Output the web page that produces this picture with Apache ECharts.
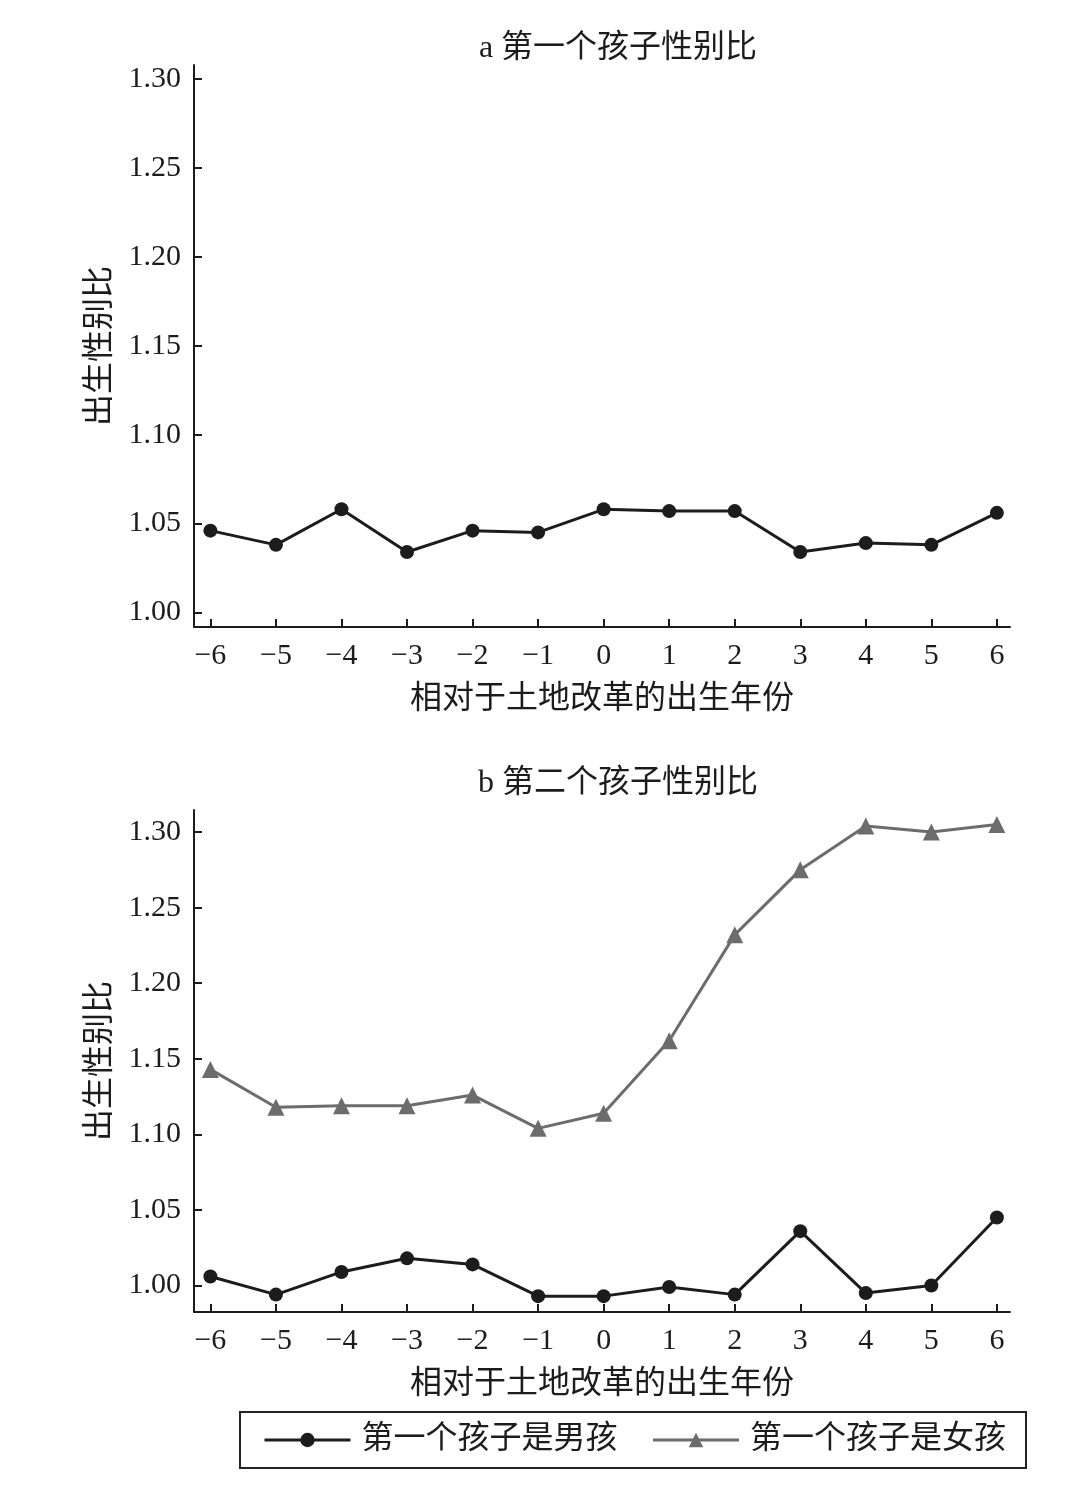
<!DOCTYPE html>
<html>
<head>
<meta charset="utf-8">
<script src="https://cdn.jsdelivr.net/npm/echarts@6/dist/echarts.min.js"></script>
<style>html,body{margin:0;padding:0;background:#fff}#c{width:1080px;height:1492px}</style>
</head>
<body>
<div id="c"></div>
<script>
const years = [-6, -5, -4, -3, -2, -1, 0, 1, 2, 3, 4, 5, 6];
const firstChildRatio = [1.046, 1.038, 1.058, 1.034, 1.046, 1.045, 1.058, 1.057, 1.057, 1.034, 1.039, 1.038, 1.056];
const secondBoyFirst = [1.006, 0.994, 1.009, 1.018, 1.014, 0.993, 0.993, 0.999, 0.994, 1.036, 0.995, 1.000, 1.045];
const secondGirlFirst = [1.143, 1.118, 1.119, 1.119, 1.126, 1.104, 1.114, 1.162, 1.232, 1.275, 1.304, 1.300, 1.305];
const yTicks = [1.00, 1.05, 1.10, 1.15, 1.20, 1.25, 1.30];
const xTicks = [-6, -5, -4, -3, -2, -1, 0, 1, 2, 3, 4, 5, 6];
const titles = ['a 第一个孩子性别比', 'b 第二个孩子性别比'];
const seriesNames = ['第一个孩子是男孩', '第一个孩子是女孩'];
const xName = '相对于土地改革的出生年份';
const yName = '出生性别比';

const SERIF = '"Liberation Serif", "Noto Sans CJK SC", serif';
const BLACK = '#1c1c1c';
const GRAY = '#6c6c6c';
const zip = (xs, ys) => xs.map((x, i) => [x, ys[i]]);

function xAxis(gi) {
  return {
    type: 'value', gridIndex: gi, min: -6.25, max: 6.2,
    name: xName, nameLocation: 'middle', nameGap: 57,
    nameTextStyle: { fontFamily: SERIF, fontSize: 32, color: BLACK },
    axisLine: { onZero: false, lineStyle: { color: BLACK, width: 2 } },
    axisTick: { inside: true, length: 8, customValues: xTicks, lineStyle: { color: BLACK, width: 2 } },
    axisLabel: { customValues: xTicks, margin: 14, fontFamily: SERIF, fontSize: 30, color: BLACK,
      formatter: v => String(v).replace('-', '\u2212') },
    splitLine: { show: false }
  };
}
function yAxis(gi, min, max) {
  return {
    type: 'value', gridIndex: gi, min: min, max: max,
    name: yName, nameLocation: 'middle', nameGap: 77,
    nameTextStyle: { fontFamily: SERIF, fontSize: 32, color: BLACK },
    axisLine: { onZero: false, lineStyle: { color: BLACK, width: 2 } },
    axisTick: { inside: true, length: 8, customValues: yTicks, lineStyle: { color: BLACK, width: 2 } },
    axisLabel: { customValues: yTicks, margin: 13, fontFamily: SERIF, fontSize: 30, color: BLACK,
      formatter: v => v.toFixed(2) },
    splitLine: { show: false }
  };
}

const chart = echarts.init(document.getElementById('c'), null, { renderer: 'canvas' });
chart.setOption({
  animation: false,
  backgroundColor: '#fff',
  title: [
    { text: titles[0], left: 613, top: 28, textAlign: 'center',
      textStyle: { fontFamily: SERIF, fontSize: 32, fontWeight: 'normal', color: BLACK } },
    { text: titles[1], left: 613, top: 763, textAlign: 'center',
      textStyle: { fontFamily: SERIF, fontSize: 32, fontWeight: 'normal', color: BLACK } }
  ],
  grid: [
    { left: 194, right: 70, top: 65, height: 562 },
    { left: 194, right: 70, top: 810, height: 502 }
  ],
  xAxis: [xAxis(0), xAxis(1)],
  yAxis: [yAxis(0, 0.9918, 1.3079), yAxis(1, 0.9825, 1.3146)],
  legend: {
    data: seriesNames,
    left: 240, top: 1412,
    borderColor: '#222', borderWidth: 2, borderRadius: 0,
    padding: [12, 20, 12, 23],
    itemWidth: 86, itemHeight: 18, itemGap: 34,
    lineStyle: { width: 3 },
    textStyle: { fontFamily: SERIF, fontSize: 32, color: BLACK, padding: [0, 0, 0, 6] }
  },
  series: [
    { name: seriesNames[0], type: 'line', xAxisIndex: 0, yAxisIndex: 0,
      data: zip(years, firstChildRatio), symbol: 'circle', symbolSize: 14,
      lineStyle: { color: BLACK, width: 3 }, itemStyle: { color: BLACK } },
    { name: seriesNames[0], type: 'line', xAxisIndex: 1, yAxisIndex: 1,
      data: zip(years, secondBoyFirst), symbol: 'circle', symbolSize: 14,
      lineStyle: { color: BLACK, width: 3 }, itemStyle: { color: BLACK } },
    { name: seriesNames[1], type: 'line', xAxisIndex: 1, yAxisIndex: 1,
      data: zip(years, secondGirlFirst), symbol: 'triangle', symbolSize: 17,
      lineStyle: { color: GRAY, width: 3 }, itemStyle: { color: GRAY } }
  ]
});
</script>
</body>
</html>
